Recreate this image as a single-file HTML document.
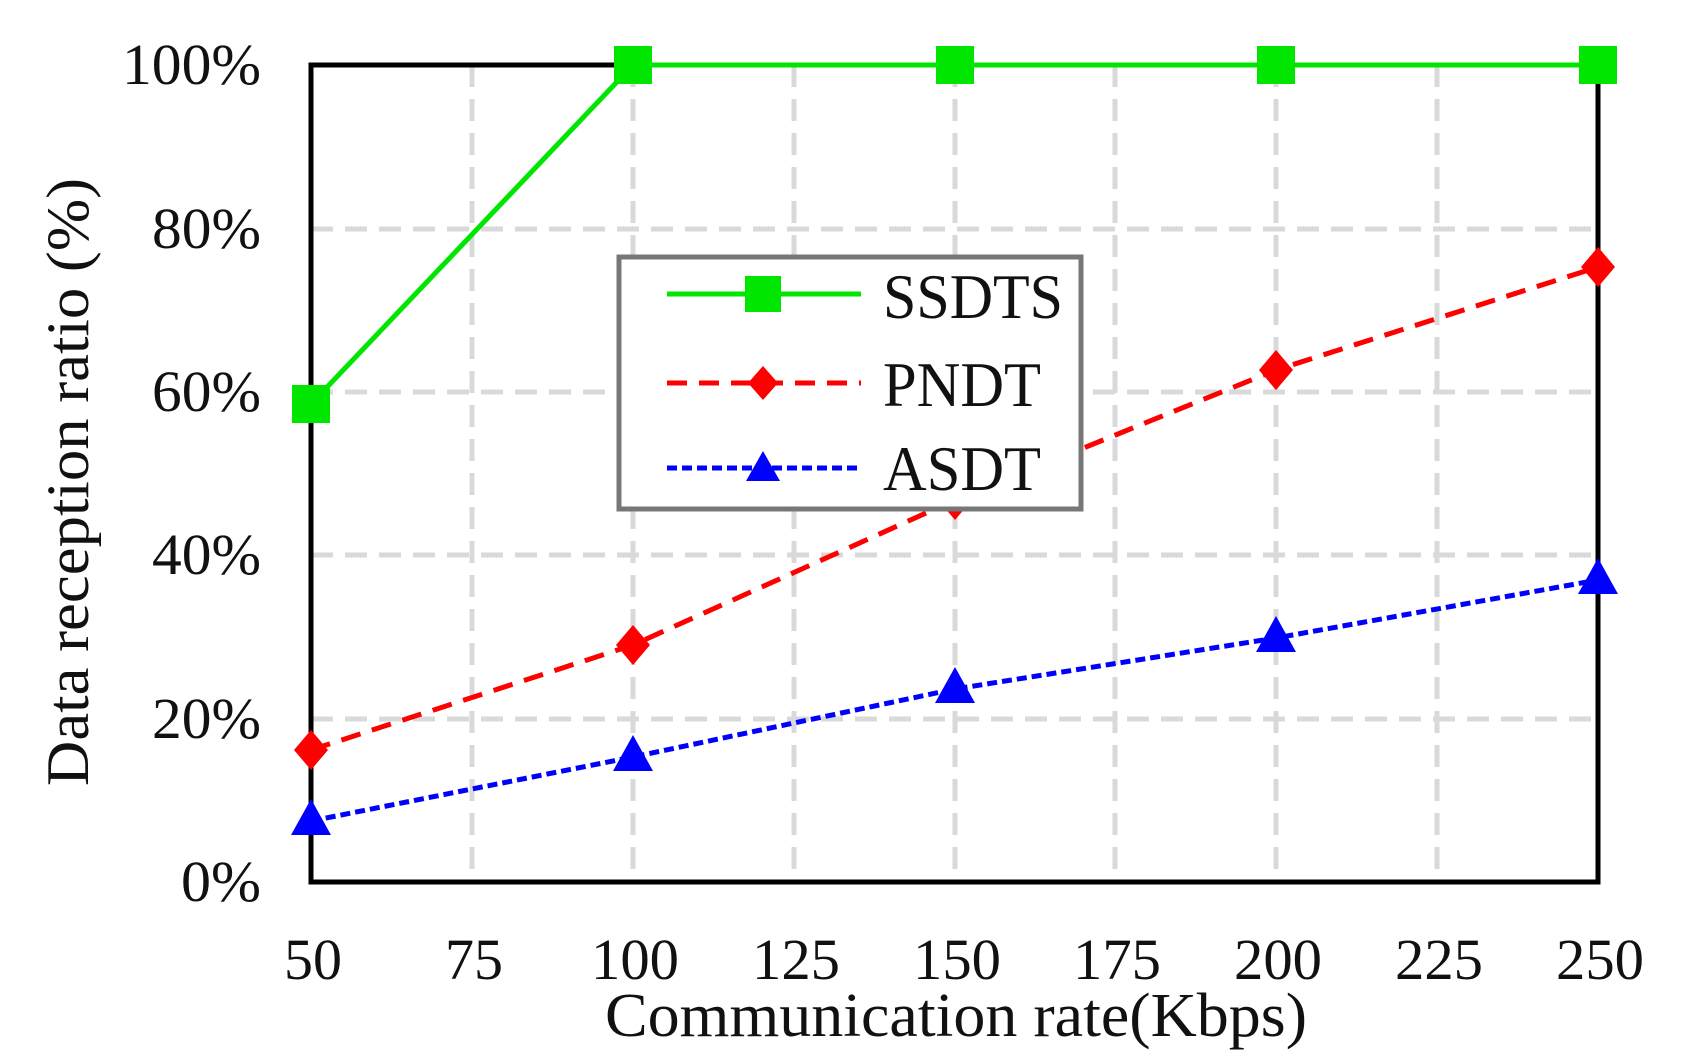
<!DOCTYPE html>
<html><head><meta charset="utf-8"><style>html,body{margin:0;padding:0;background:#fff}svg{display:block}</style></head>
<body>
<svg width="1684" height="1064" viewBox="0 0 1684 1064" xmlns="http://www.w3.org/2000/svg" font-family="'Liberation Serif', serif">
<rect width="1684" height="1064" fill="#fff"/>
<g stroke="#d9d9d9" stroke-width="5" stroke-dasharray="22,12">
<line x1="472" y1="65" x2="472" y2="882"/><line x1="633" y1="65" x2="633" y2="882"/><line x1="794" y1="65" x2="794" y2="882"/><line x1="955" y1="65" x2="955" y2="882"/><line x1="1115" y1="65" x2="1115" y2="882"/><line x1="1276" y1="65" x2="1276" y2="882"/><line x1="1437" y1="65" x2="1437" y2="882"/>
<line x1="311" y1="229" x2="1598" y2="229"/><line x1="311" y1="392" x2="1598" y2="392"/><line x1="311" y1="555" x2="1598" y2="555"/><line x1="311" y1="719" x2="1598" y2="719"/>
</g>
<rect x="311" y="65" width="1287" height="817" fill="none" stroke="#000" stroke-width="5"/>
<g font-size="58" fill="#111">
<text x="122" y="84" textLength="139" lengthAdjust="spacingAndGlyphs">100%</text>
<text x="152" y="248" textLength="109" lengthAdjust="spacingAndGlyphs">80%</text>
<text x="152" y="411" textLength="109" lengthAdjust="spacingAndGlyphs">60%</text>
<text x="152" y="574" textLength="109" lengthAdjust="spacingAndGlyphs">40%</text>
<text x="152" y="738" textLength="109" lengthAdjust="spacingAndGlyphs">20%</text>
<text x="181" y="901" textLength="80" lengthAdjust="spacingAndGlyphs">0%</text>
</g>
<g font-size="58" fill="#111">
<text x="284" y="979" textLength="58" lengthAdjust="spacingAndGlyphs">50</text>
<text x="445" y="979" textLength="58" lengthAdjust="spacingAndGlyphs">75</text>
<text x="591" y="979" textLength="88" lengthAdjust="spacingAndGlyphs">100</text>
<text x="752" y="979" textLength="88" lengthAdjust="spacingAndGlyphs">125</text>
<text x="913" y="979" textLength="88" lengthAdjust="spacingAndGlyphs">150</text>
<text x="1073" y="979" textLength="88" lengthAdjust="spacingAndGlyphs">175</text>
<text x="1234" y="979" textLength="88" lengthAdjust="spacingAndGlyphs">200</text>
<text x="1395" y="979" textLength="88" lengthAdjust="spacingAndGlyphs">225</text>
<text x="1556" y="979" textLength="88" lengthAdjust="spacingAndGlyphs">250</text>
</g>
<text x="605" y="1036" font-size="62" fill="#111" textLength="702" lengthAdjust="spacingAndGlyphs">Communication rate(Kbps)</text>
<text transform="translate(88,786) rotate(-90)" font-size="60" fill="#111" textLength="608" lengthAdjust="spacingAndGlyphs">Data reception ratio (%)</text>
<!-- SSDTS -->
<polyline points="311,404 633,65 955,65 1276,65 1598,65" fill="none" stroke="#00e600" stroke-width="5"/>
<g fill="#00e600">
<rect x="292" y="385" width="38" height="38"/><rect x="614" y="46" width="38" height="38"/><rect x="936" y="46" width="38" height="38"/><rect x="1257" y="46" width="38" height="38"/><rect x="1579" y="46" width="38" height="38"/>
</g>
<!-- PNDT -->
<polyline points="311,750 633,645 955,500 1276,370 1598,267" fill="none" stroke="#f00" stroke-width="5" stroke-dasharray="20,12"/>
<g fill="#f00">
<path d="M311,730 l17,20 -17,20 -17,-20z"/><path d="M633,625 l17,20 -17,20 -17,-20z"/><path d="M955,480 l17,20 -17,20 -17,-20z"/><path d="M1276,350 l17,20 -17,20 -17,-20z"/><path d="M1598,247 l17,20 -17,20 -17,-20z"/>
</g>
<!-- ASDT -->
<polyline points="311,821 633,757 955,689 1276,638 1598,580" fill="none" stroke="#0000ff" stroke-width="5" stroke-dasharray="10,5"/>
<g fill="#0000ff">
<path d="M311,799 l20,36 h-40z"/><path d="M633,735 l20,36 h-40z"/><path d="M955,667 l20,36 h-40z"/><path d="M1276,616 l20,36 h-40z"/><path d="M1598,558 l20,36 h-40z"/>
</g>
<!-- Legend -->
<rect x="619" y="257" width="462" height="252" fill="#fff" stroke="#777" stroke-width="5"/>
<line x1="667" y1="294" x2="861" y2="294" stroke="#00e600" stroke-width="5"/>
<rect x="745" y="276" width="36" height="36" fill="#00e600"/>
<line x1="667" y1="383" x2="861" y2="383" stroke="#f00" stroke-width="5" stroke-dasharray="20,12"/>
<path d="M763,366 l15,17 -15,17 -15,-17z" fill="#f00"/>
<line x1="667" y1="468" x2="861" y2="468" stroke="#0000ff" stroke-width="5" stroke-dasharray="10,5"/>
<path d="M763,451 l17,30 h-34z" fill="#0000ff"/>
<g font-size="64" fill="#111">
<text x="883" y="318" textLength="180" lengthAdjust="spacingAndGlyphs">SSDTS</text>
<text x="883" y="406" textLength="158" lengthAdjust="spacingAndGlyphs">PNDT</text>
<text x="883" y="490" textLength="158" lengthAdjust="spacingAndGlyphs">ASDT</text>
</g>
</svg>
</body></html>
